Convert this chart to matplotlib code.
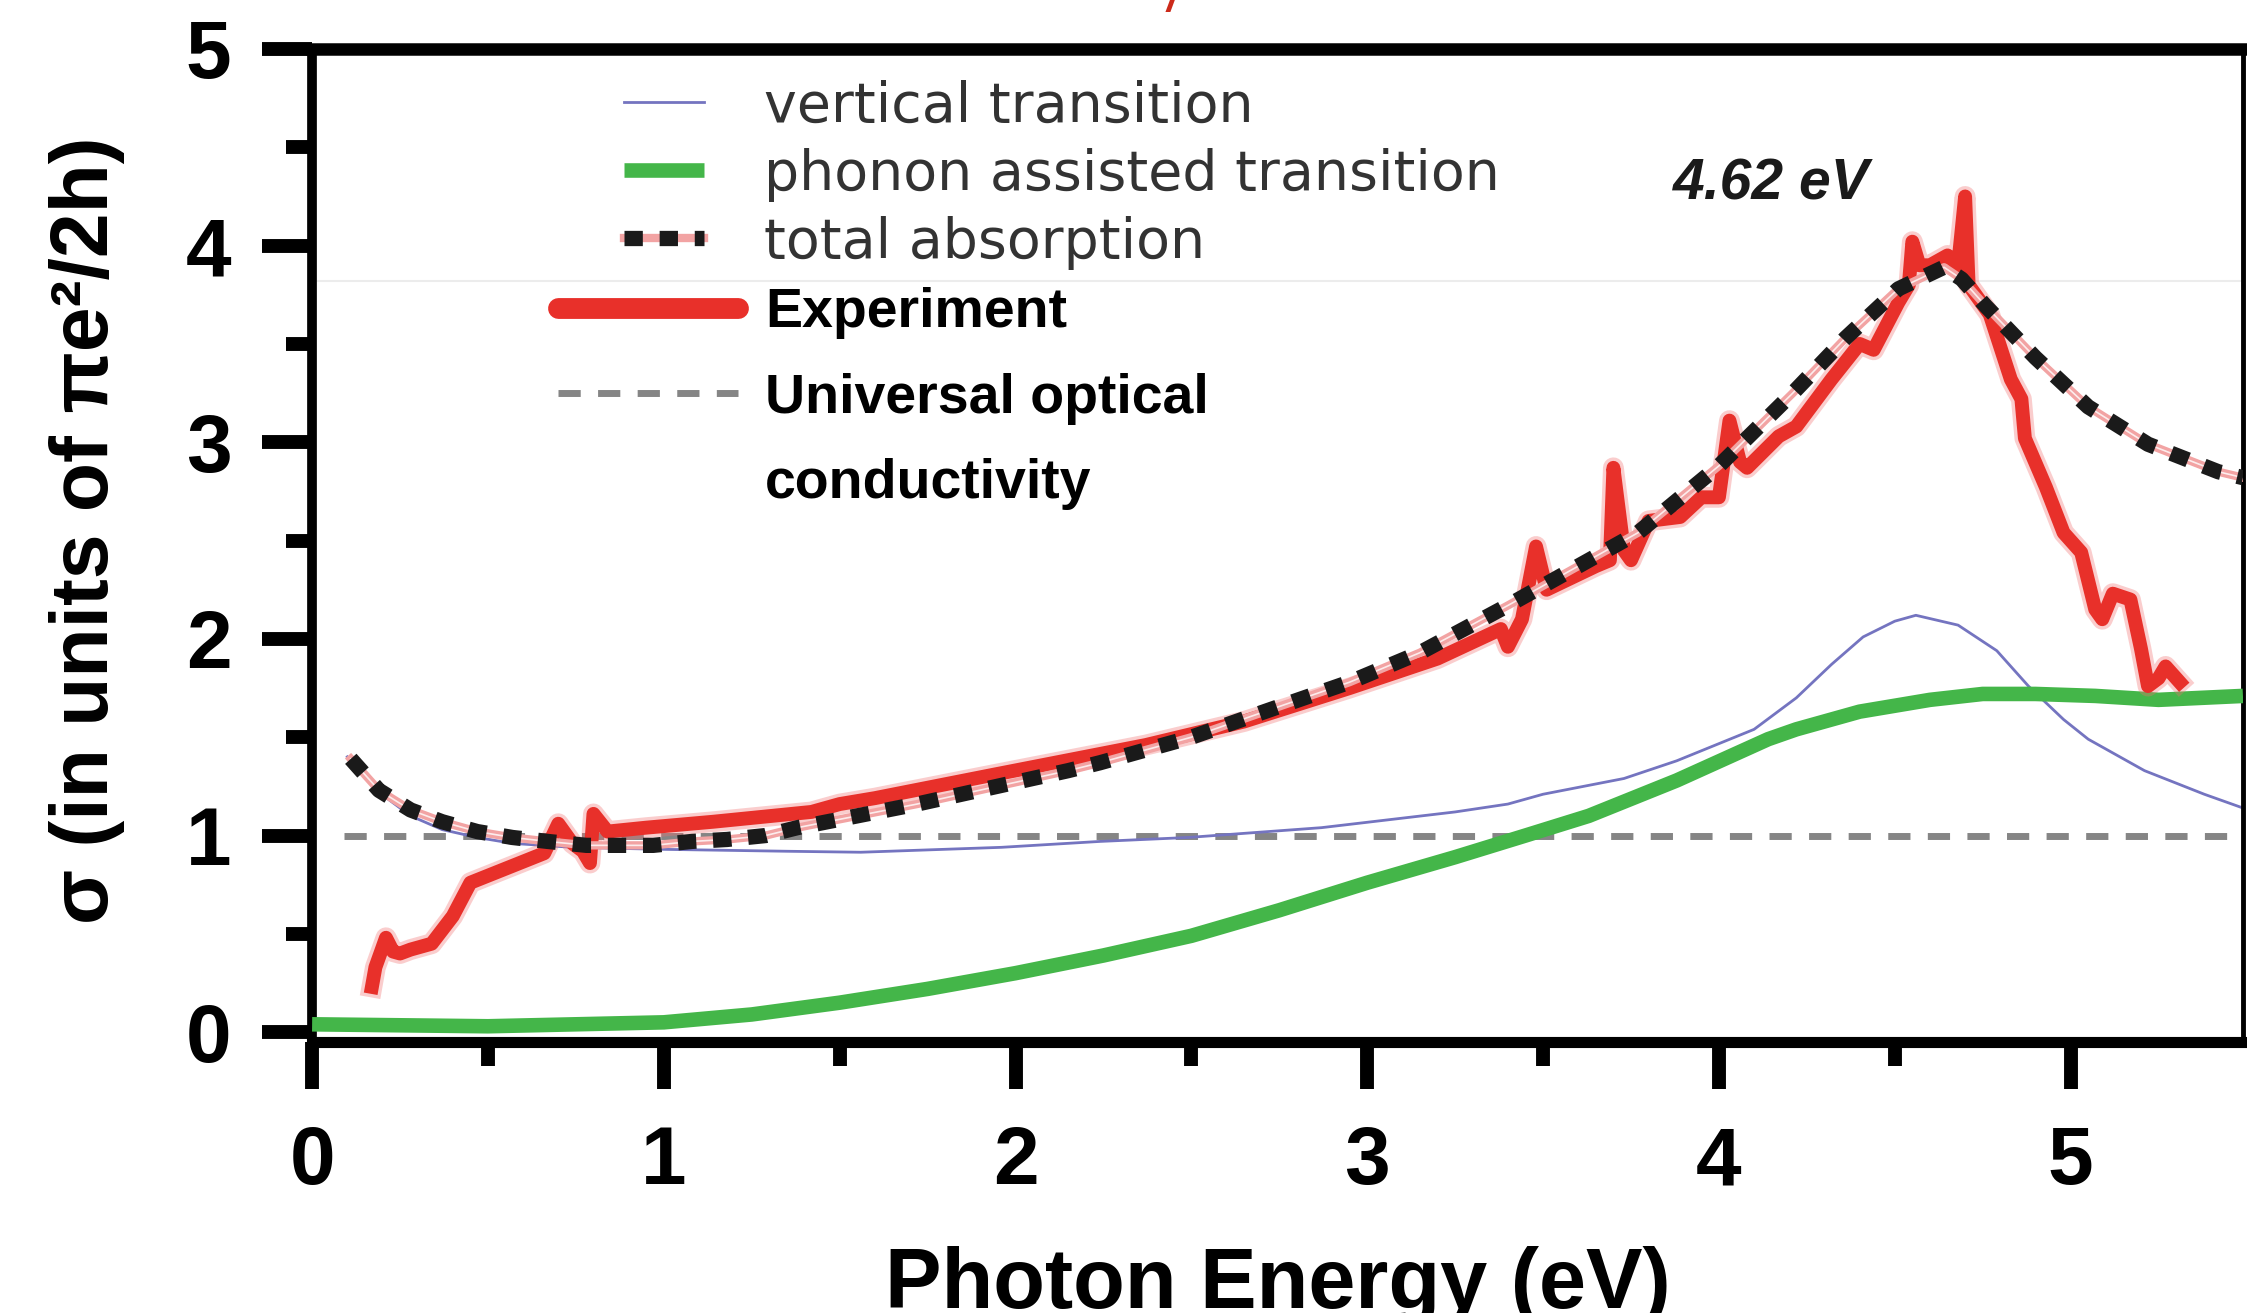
import matplotlib
matplotlib.use('Agg')
import matplotlib.pyplot as plt
from matplotlib.lines import Line2D

plt.rcParams['font.family'] = 'Liberation Sans'
plt.rcParams['font.weight'] = 'bold'

# ---- data (photon energy in eV, sigma in units of pi e^2/2h)
vert_x = [0.10, 0.19, 0.28, 0.37, 0.47, 0.57, 0.74, 0.99, 1.35, 1.56, 1.96, 2.24, 2.49,
          2.87, 3.25, 3.40, 3.50, 3.73, 3.88, 4.10, 4.22, 4.32, 4.41, 4.50, 4.56, 4.68,
          4.79, 4.88, 4.98, 5.05, 5.21, 5.38, 5.49]
vert_y = [1.40, 1.22, 1.10, 1.03, 0.99, 0.96, 0.94, 0.93, 0.92, 0.915, 0.94, 0.97, 0.99,
          1.04, 1.12, 1.16, 1.21, 1.29, 1.38, 1.54, 1.70, 1.87, 2.01, 2.09, 2.12, 2.07,
          1.94, 1.76, 1.59, 1.49, 1.33, 1.21, 1.14]

phonon_x = [0.00, 0.50, 1.00, 1.25, 1.50, 1.75, 2.00, 2.25, 2.50, 2.75, 3.00, 3.25, 3.45,
            3.63, 3.88, 4.14, 4.22, 4.40, 4.60, 4.75, 4.90, 5.07, 5.25, 5.49]
phonon_y = [0.04, 0.03, 0.05, 0.09, 0.15, 0.22, 0.30, 0.39, 0.49, 0.62, 0.76, 0.89, 1.00,
            1.10, 1.28, 1.49, 1.54, 1.63, 1.69, 1.72, 1.72, 1.71, 1.69, 1.71]

total_x = [0.11, 0.19, 0.28, 0.37, 0.47, 0.57, 0.67, 0.78, 0.87, 0.97, 1.08, 1.18, 1.29,
           1.38, 1.72, 2.15, 2.24, 2.50, 2.74, 2.95, 3.15, 3.40, 3.69, 3.77, 4.00, 4.21,
           4.36, 4.51, 4.64, 4.69, 4.76, 4.90, 5.05, 5.22, 5.42, 5.49]
total_y = [1.39, 1.23, 1.13, 1.07, 1.02, 0.99, 0.97, 0.95, 0.95, 0.95, 0.97, 0.98, 1.00,
           1.04, 1.16, 1.33, 1.37, 1.50, 1.65, 1.78, 1.93, 2.17, 2.46, 2.54, 2.88, 3.25,
           3.53, 3.78, 3.89, 3.83, 3.69, 3.43, 3.18, 2.99, 2.85, 2.82]

exp_x = [0.17, 0.18, 0.21, 0.23, 0.25, 0.28, 0.34, 0.40, 0.45, 0.52, 0.59, 0.66, 0.70,
         0.74, 0.77, 0.79, 0.80, 0.84, 0.95, 1.14, 1.42, 1.50, 1.60, 1.94, 2.37, 2.65,
         2.95, 3.20, 3.38, 3.40, 3.44, 3.48, 3.51, 3.65, 3.69, 3.70, 3.73, 3.75, 3.80,
         3.89, 3.95, 4.00, 4.03, 4.06, 4.08, 4.17, 4.22, 4.32, 4.40, 4.44, 4.51, 4.54,
         4.55, 4.57, 4.60, 4.65, 4.68, 4.70, 4.71, 4.77, 4.83, 4.86, 4.87, 4.93, 4.98,
         5.03, 5.07, 5.09, 5.12, 5.17, 5.20, 5.22, 5.25, 5.27, 5.31]
exp_y = [0.23, 0.33, 0.48, 0.41, 0.40, 0.42, 0.45, 0.59, 0.76, 0.81, 0.86, 0.91, 1.06,
         0.96, 0.92, 0.86, 1.11, 1.02, 1.04, 1.07, 1.12, 1.16, 1.19, 1.31, 1.46, 1.58,
         1.75, 1.90, 2.05, 1.96, 2.10, 2.47, 2.25, 2.37, 2.40, 2.87, 2.45, 2.40, 2.60,
         2.62, 2.72, 2.72, 3.11, 2.90, 2.87, 3.03, 3.08, 3.32, 3.50, 3.47, 3.71, 3.80,
         4.02, 3.90, 3.90, 3.95, 3.90, 4.25, 3.80, 3.65, 3.32, 3.22, 3.02, 2.77, 2.54,
         2.44, 2.15, 2.10, 2.23, 2.20, 1.95, 1.76, 1.80, 1.86, 1.78]

univ_x = [0.09, 5.49]
univ_y = [1.0, 1.0]

peak_label = '4.62 eV'
peak_pos = (4.15, 4.31)

labels_model = ['vertical transition', 'phonon assisted transition', 'total absorption']
labels_data = ['Experiment', 'Universal optical', 'conductivity']

# ---- figure
fig = plt.figure(figsize=(22.47, 13.13), dpi=100)
ax = fig.add_axes([0.1389, 0.2064, 0.8593, 0.7563])

ax.axhline(3.82, color='#ececec', lw=1.5, zorder=0)
h_uni, = ax.plot(univ_x, univ_y, color='#858585', lw=5, linestyle=(0, (3.2, 2.5)), zorder=1)
h_vert, = ax.plot(vert_x, vert_y, color='#7474c0', lw=2, zorder=2)
h_phon, = ax.plot(phonon_x, phonon_y, color='#44b649', lw=10.5, solid_capstyle='butt', zorder=3)
ax.plot(exp_x, exp_y, color='#f27070', lw=15, alpha=0.35, zorder=4)
h_exp, = ax.plot(exp_x, exp_y, color='#e8302a', lw=10, solid_joinstyle='round', zorder=4)
h_pink, = ax.plot(total_x, total_y, color='#f2a3a3', lw=6, zorder=5)
ax.plot(total_x, total_y, color='white', lw=1.2, alpha=0.8, zorder=5)
h_tot, = ax.plot(total_x, total_y, color='#1a1a1a', lw=11, linestyle=(0, (1.2, 1.1)), zorder=6)

ax.text(peak_pos[0], peak_pos[1], peak_label, style='italic', fontsize=41,
        color='#1a1a1a', ha='center', va='center')

ax.set_xlim(0, 5.49)
ax.set_ylim(-0.05, 5)
ax.set_xticks(range(0, 6))
ax.set_yticks(range(0, 6))
ax.set_xticks([0.5, 1.5, 2.5, 3.5, 4.5], minor=True)
ax.set_yticks([0.5, 1.5, 2.5, 3.5, 4.5], minor=True)
ax.tick_params(axis='both', which='major', direction='out', width=10, labelsize=59)
ax.tick_params(axis='x', which='major', length=34, pad=26)
ax.tick_params(axis='y', which='major', length=36, pad=22)
ax.tick_params(axis='x', which='minor', direction='out', length=17, width=10)
ax.tick_params(axis='y', which='minor', direction='out', length=19, width=10)

ax.spines['left'].set_linewidth(7)
ax.spines['bottom'].set_linewidth(8)
ax.spines['top'].set_linewidth(9)
ax.spines['right'].set_linewidth(3.5)

leg1 = ax.legend([h_vert, h_phon, (h_pink, h_tot)], labels_model, loc='upper left',
                 bbox_to_anchor=(0.1616, 0.969), frameon=False,
                 prop={'family': 'DejaVu Sans', 'weight': 'normal', 'size': 40},
                 handlelength=1.44, handletextpad=1.08, labelspacing=0.25,
                 borderpad=0, borderaxespad=0, labelcolor='#333333')
ax.add_artist(leg1)
blank = Line2D([], [], color='none')
leg2 = ax.legend([h_exp, h_uni, blank], labels_data, loc='upper left',
                 bbox_to_anchor=(0.1274, 0.76), frameon=False,
                 prop={'family': 'Liberation Sans', 'weight': 'bold', 'size': 40},
                 handlelength=3.24, handletextpad=0.49, labelspacing=0.6,
                 borderpad=0, borderaxespad=0)
leg2.legend_handles[0].set_linewidth(15)
leg2.legend_handles[0].set_solid_capstyle('round')

fig.text(87 / 2247, 1 - 530 / 1313, 'σ (in units of πe²/2h)', rotation=90,
         fontsize=58, ha='center', va='center')
fig.text(0.5 * (0.1389 + 0.9982), 1 - 1308 / 1313, 'Photon Energy (eV)',
         fontsize=61, ha='center', va='baseline')
fig.text(1172 / 2247, 1.0, '/', color='#cc2a1a', fontsize=30, style='italic',
         ha='center', va='center')

fig.savefig('out.png', dpi=100)
